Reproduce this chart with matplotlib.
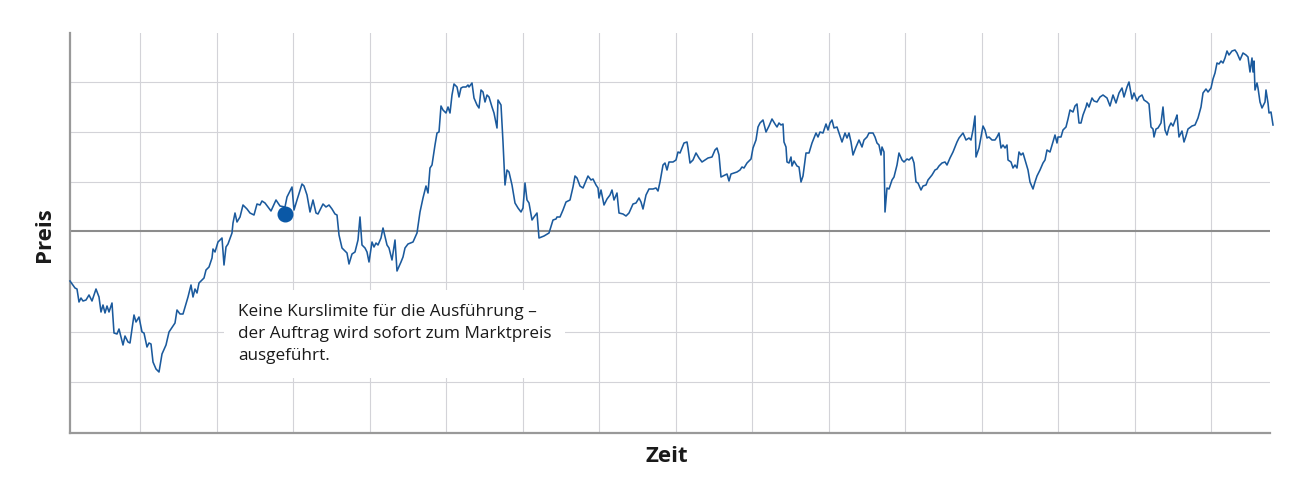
import numpy as np
import matplotlib
matplotlib.use('Agg')
import matplotlib.pyplot as plt

# --- data (time in days, price in chart units) ---
days = [0, 5, 7, 9, 11, 13, 16, 19, 22, 26, 29, 31, 33, 35, 37, 39, 42, 44, 47, 49,
        51, 53, 55, 58, 60, 64, 66, 69, 72, 74, 77, 79, 81, 83, 86, 89, 92, 96, 99, 105,
        107, 110, 113, 118, 121, 123, 125, 127, 129, 132, 134, 136, 139, 142, 143, 145, 148, 152, 154, 156,
        158, 162, 163, 165, 167, 170, 173, 177,
        180, 184, 187, 190, 192, 195, 201, 206, 210, 215, 217, 219, 222, 224, 227, 232, 234, 237, 240, 243,
        246, 248, 253, 256, 259, 262, 265, 267, 269, 272, 275, 277, 279, 282, 285, 288, 290, 292, 295, 297,
        299, 302, 304, 306, 308, 311, 313, 317, 319, 322, 325, 327, 331, 333,
        335, 338, 343, 347, 350, 353, 356, 358, 360, 362, 365, 367, 369, 371, 373, 376, 378, 380, 382, 384,
        387, 389, 391, 393, 396, 398, 399, 402, 404, 407, 409, 411, 413, 415, 417, 419, 422, 424, 427, 428,
        431, 433, 435, 437, 439, 442, 445, 448, 451, 453, 455, 457, 459, 462, 464, 467, 469, 474, 479, 483,
        486, 487, 490, 493, 496, 500, 503, 505, 507,
        510, 513, 518, 521, 523, 526, 528, 529, 531, 534, 537, 540, 542, 544, 547, 549, 553, 556, 559, 563,
        566, 569, 571, 573, 576, 579, 583, 586, 588, 590, 593, 595, 597, 599, 603, 606, 608, 610, 612, 614,
        617, 618, 620, 623, 626, 629, 632, 635, 638, 642, 645, 647, 649, 651, 653, 657, 659, 661, 664, 667,
        670, 672, 674, 677, 681, 683, 686, 688,
        690, 693, 696, 699, 702, 705, 707, 709, 711, 713, 714, 716, 717, 719, 721, 722, 724, 727, 729, 731,
        733, 736, 739, 742, 744, 746, 748, 750, 753, 756, 758, 760, 762, 764, 767, 769, 772, 775, 777, 779,
        781, 783, 786, 789, 792, 794, 797, 799, 803, 805, 807, 809, 811, 812, 814, 815, 817, 819, 822, 824,
        827, 829, 832, 834, 837, 839, 842, 844, 846, 848, 851, 853, 856, 858, 862, 865, 867, 869, 872, 875,
        877,
        880, 883, 887, 889, 893, 896, 899, 901, 903, 905, 906, 909, 913, 915, 917, 919, 922, 925, 927, 929,
        931, 933, 935, 937, 938, 941, 943, 945, 947, 949, 951, 953, 956, 958, 960, 963, 965, 967, 970, 973,
        975, 977, 980, 983, 985, 987, 988, 991, 993, 996, 998, 1000, 1003, 1005, 1007, 1009, 1011, 1013, 1016, 1017,
        1019, 1022, 1024, 1027,
        1030, 1033, 1037, 1040, 1043, 1046, 1049, 1052, 1054, 1057, 1059, 1062, 1064, 1067, 1069, 1072, 1074, 1077, 1079, 1081,
        1083, 1084, 1086, 1088, 1091, 1093, 1095, 1097, 1099, 1101, 1103, 1106, 1107, 1109, 1112, 1114, 1116, 1118, 1122, 1125,
        1128, 1131, 1133, 1136, 1138, 1141, 1143, 1145, 1147, 1149, 1151, 1153, 1155, 1157, 1159, 1162, 1165, 1167, 1170, 1173,
        1176, 1178, 1180, 1182, 1183, 1184, 1185, 1187, 1188, 1190, 1192, 1195, 1196, 1198, 1199, 1201, 1203]

prices = [152, 145, 144, 131, 135, 132, 133, 138, 132, 144, 136, 121, 128, 120, 127, 121, 130, 100, 99, 104,
          96, 88, 97, 91, 90, 118, 111, 116, 101, 100, 86, 90, 89, 71, 64, 61, 79, 88, 101, 110,
          123, 119, 119, 136, 148, 136, 144, 140, 150, 153, 155, 163, 166, 175, 184, 181, 191, 195, 168, 186,
          189, 200, 210, 220, 211, 216, 228, 224,
          220, 218, 229, 228, 232, 230, 222, 233, 227, 226, 236, 240, 246, 223, 233, 249, 247, 238, 221, 233,
          220, 219, 229, 226, 228, 224, 219, 218, 198, 185, 182, 180, 169, 179, 181, 193, 216, 188, 185, 181,
          171, 191, 186, 190, 188, 195, 205, 188, 185, 173, 193, 162, 171, 176,
          185, 189, 191, 200, 221, 235, 247, 240, 265, 268, 288, 300, 301, 327, 323, 320, 326, 320, 338, 349,
          346, 336, 345, 346, 346, 348, 346, 350, 335, 328, 325, 343, 341, 331, 338, 336, 326, 320, 305, 333,
          328, 291, 248, 263, 261, 248, 230, 225, 221, 225, 250, 233, 230, 213, 216, 220, 195, 197, 200, 213,
          214, 216, 216, 223, 231, 233, 246, 257, 255,
          247, 245, 257, 253, 254, 248, 245, 235, 243, 228, 234, 238, 243, 233, 240, 220, 219, 217, 220, 229,
          230, 235, 231, 224, 238, 244, 244, 245, 242, 251, 268, 270, 263, 271, 271, 273, 281, 280, 285, 290,
          291, 285, 270, 273, 280, 275, 271, 273, 275, 276, 283, 285, 278, 256, 257, 259, 252, 259, 260, 261,
          263, 266, 265, 270, 274, 285, 293, 306,
          310, 313, 301, 307, 314, 309, 306, 310, 308, 309, 291, 286, 271, 270, 276, 267, 272, 267, 266, 251,
          257, 280, 280, 290, 295, 300, 296, 301, 300, 309, 303, 310, 313, 305, 306, 300, 291, 300, 295, 300,
          291, 278, 286, 293, 286, 293, 296, 300, 300, 296, 290, 288, 278, 286, 281, 221, 245, 244, 253, 256,
          268, 280, 273, 271, 274, 273, 276, 270, 251, 250, 243, 247, 248, 253, 258, 263, 264, 267, 270, 271,
          268,
          275, 281, 291, 295, 300, 293, 295, 293, 303, 317, 276, 285, 307, 303, 295, 296, 293, 293, 296, 300,
          285, 288, 285, 288, 273, 271, 265, 268, 265, 281, 278, 280, 270, 263, 251, 244, 251, 257, 263, 270,
          273, 283, 281, 291, 298, 290, 296, 296, 303, 306, 314, 323, 321, 327, 329, 310, 310, 318, 326, 330,
          326, 335, 332, 331,
          336, 338, 335, 327, 338, 330, 340, 345, 336, 346, 351, 334, 340, 332, 336, 338, 333, 331, 329, 306,
          304, 296, 304, 305, 310, 326, 303, 298, 306, 310, 307, 315, 318, 296, 302, 291, 297, 304, 307, 308,
          315, 326, 340, 344, 341, 345, 354, 360, 370, 369, 372, 370, 375, 382, 378, 382, 383, 380, 373, 380,
          378, 376, 361, 375, 361, 372, 343, 350, 345, 331, 325, 331, 343, 330, 320, 321, 308]

order_day = 215
order_price = 219
entry_price = 202
grid_prices = [51, 101, 151, 251, 301, 351]
grid_days = np.arange(70, 1200, 76.5)

note = ("Keine Kurslimite für die Ausführung –\n"
        "der Auftrag wird sofort zum Marktpreis\n"
        "ausgeführt.")

plt.rcParams['font.family'] = ['Open Sans', 'DejaVu Sans']

fig = plt.figure(figsize=(13, 5), dpi=100)
ax = fig.add_axes([70 / 1300, 67 / 500, 1200 / 1300, 400 / 500])

ax.set_xlim(0, 1200)
ax.set_ylim(0, 400)

# grid
for d in grid_days:
    ax.axvline(d, color='#d3d3d8', lw=0.8, zorder=1)
for p in grid_prices:
    ax.axhline(p, color='#d3d3d8', lw=0.8, zorder=1)
ax.axhline(entry_price, color='#8c8c8c', lw=1.5, zorder=2)

# price path
ax.plot(days, prices, color='#1b5a9d', lw=1.15, zorder=3, clip_on=False)
ax.plot([order_day], [order_price], 'o', color='#0a58a6', ms=10.5, zorder=4)

ax.text(168, 129, note, fontsize=12.3, color='#1a1a1a', va='top', ha='left',
        linespacing=1.5, zorder=5,
        bbox=dict(boxstyle='square,pad=0.8', fc='white', ec='none'))

for s in ['top', 'right']:
    ax.spines[s].set_visible(False)
for s in ['left', 'bottom']:
    ax.spines[s].set_color('#999999')
    ax.spines[s].set_linewidth(1.6)
ax.set_xticks([])
ax.set_yticks([])

fig.text(45 / 1300, 1 - 235 / 500, 'Preis', rotation=90, ha='center', va='center',
         fontsize=16, fontweight='bold', color='#1a1a1a')
fig.text(667 / 1300, 1 - 456 / 500, 'Zeit', ha='center', va='center',
         fontsize=16, fontweight='bold', color='#1a1a1a')

fig.savefig('out.png', dpi=100, facecolor='white')
